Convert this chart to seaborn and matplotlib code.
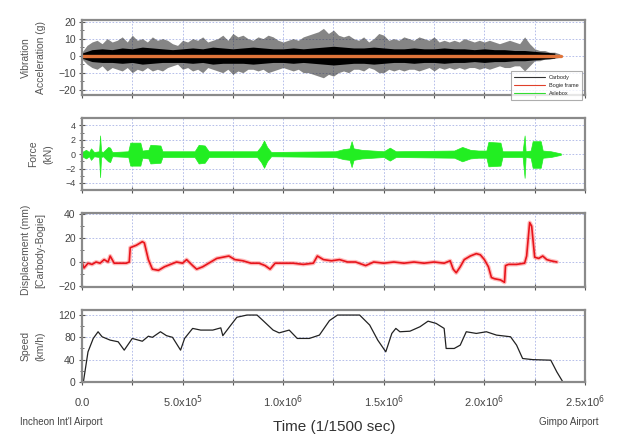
import numpy as np
import pandas as pd
import matplotlib
matplotlib.use("Agg")
import matplotlib.pyplot as plt
from matplotlib.ticker import MultipleLocator, FixedLocator
import seaborn as sns

sns.set_theme(style="white")
plt.rcParams['font.family'] = ['Liberation Sans', 'DejaVu Sans']

# ---------------- data ----------------
# Vibration acceleration (g): sampled peak envelope every 2.5e4 samples
vib_t = np.arange(0, 2.4e6, 2.5e4)
vib_hi = [2, 6, 8, 9, 7, 10, 8, 9, 11, 8,
          12, 9, 10, 8, 11, 9, 10, 9, 7, 6,
          9, 8, 10, 9, 11, 8, 9, 10, 12, 9,
          13, 11, 12, 10, 9, 11, 10, 12, 11, 9,
          8, 9, 10, 9, 11, 12, 13, 14, 16, 13,
          15, 12, 11, 12, 10, 9, 11, 8, 10, 13,
          12, 9, 10, 9, 11, 10, 9, 11, 10, 9,
          11, 8, 9, 8, 9, 8, 10, 9, 8, 9,
          8, 9, 8, 7, 8, 9, 8, 7, 11, 7,
          4, 3, 3, 2, 2, 1]
vib_lo = [-2, -5, -7, -8, -6, -9, -7, -8, -9, -7,
          -10, -8, -9, -7, -9, -8, -9, -7, -6, -5,
          -8, -7, -9, -8, -10, -7, -8, -9, -10, -8,
          -11, -9, -10, -8, -8, -9, -8, -10, -9, -8,
          -7, -8, -9, -8, -10, -10, -11, -12, -13, -11,
          -12, -10, -9, -10, -8, -8, -9, -7, -8, -10,
          -10, -8, -9, -8, -9, -8, -8, -9, -8, -7,
          -9, -7, -8, -7, -8, -7, -8, -7, -7, -8,
          -7, -8, -7, -6, -7, -7, -6, -6, -9, -6,
          -3, -3, -2, -2, -1.5, -1]
# dense core of the carbody signal, every 5e4 samples
core_t = np.arange(0, 2.4e6, 5e4)
core_hi = [1.5, 3.5, 4, 3.5, 4.5, 4, 5, 4.5, 4, 3.5, 4, 4.5,
           4, 5, 4.5, 4, 4.5, 5, 4.5, 4, 4, 4.5, 4, 4.5,
           5, 5.5, 5, 4.5, 4.5, 5, 4.5, 4, 4, 4.5, 4, 4,
           4.5, 4, 4, 3.5, 4, 3.5, 3.5, 3, 3, 2.5, 2, 1.5]
core_lo = [-1.5, -3.5, -4, -4, -4.5, -4, -5, -4.5, -4, -4, -4, -4.5,
           -4, -5, -4.5, -4.5, -4.5, -5, -4.5, -4, -4, -4.5, -4, -4.5,
           -5, -5.5, -5, -4.5, -4.5, -5, -4.5, -4, -4, -4.5, -4, -4,
           -4.5, -4, -4, -3.5, -4, -3.5, -3.5, -3, -3, -2.5, -2, -1.5]
bogie_t = [0, 2.38e6]
bogie_v = [0, 0]

# Force (kN) envelope, time in units of 1e5 samples
force_t = [0, 0.2, 0.35, 0.45, 0.6, 0.85, 0.9, 0.95, 1.05, 1.3, 1.4, 1.5, 1.6,
           2.3, 2.4, 2.9, 3.0, 3.3, 3.4, 3.9, 4.0, 5.6, 5.8, 6.1, 6.3, 8.7, 8.9,
           9.05, 9.2, 9.4, 12.6, 13.0, 13.3, 13.4, 13.5, 13.9, 15.0, 15.3, 15.6,
           18.5, 18.9, 19.3, 19.7, 20.1, 20.2, 20.8, 20.9, 21.9, 22.0, 22.05,
           22.3, 22.4, 22.8, 22.9, 23.3, 23.8]
force_hi = [0.3, 0.6, 0.3, 0.8, 0.3, 0.4, 2.6, 0.4, 0.3, 1.0, 0.9, 0.3, 0.3,
            0.4, 1.6, 1.6, 0.5, 0.6, 1.3, 1.2, 0.4, 0.4, 1.3, 1.2, 0.4, 0.4, 1.1,
            1.9, 1.0, 0.3, 0.4, 0.7, 0.8, 1.8, 0.8, 0.6, 0.4, 0.9, 0.4,
            0.5, 1.0, 0.6, 0.5, 0.5, 1.7, 1.6, 0.4, 0.4, 2.6, 0.4,
            0.5, 1.8, 1.8, 0.5, 0.4, 0.1]
force_lo = [-0.3, -0.6, -0.3, -0.8, -0.3, -0.4, -3.2, -0.4, -0.3, -1.0, -1.1, -0.3, -0.3,
            -0.4, -1.6, -1.6, -0.5, -0.6, -1.3, -1.2, -0.4, -0.4, -1.3, -1.2, -0.4, -0.4, -1.1,
            -1.9, -1.0, -0.3, -0.4, -0.7, -0.8, -1.8, -0.8, -0.6, -0.4, -0.9, -0.4,
            -0.5, -1.0, -0.6, -0.5, -0.5, -1.7, -1.6, -0.4, -0.4, -3.3, -0.4,
            -0.5, -1.9, -1.9, -0.5, -0.4, -0.1]

# Displacement (mm) carbody-bogie, time in units of 1e5 samples
disp_t = [0, 0.1, 0.3, 0.5, 0.7, 0.9, 1.1, 1.3, 1.4, 1.6, 1.9, 2.2, 2.35, 2.4,
          2.7, 3.0, 3.1, 3.3, 3.5, 3.8, 4.1, 4.4, 4.7, 5.0, 5.2, 5.5, 5.7, 6.0,
          6.3, 6.7, 7.0, 7.3, 7.6, 8.0, 8.4, 8.8, 9.1, 9.35, 9.6, 10.0, 10.5,
          11.0, 11.5, 11.7, 12.0, 12.4, 12.8, 13.2, 13.6, 14.1, 14.5, 15.0,
          15.5, 16.0, 16.5, 17.0, 17.5, 18.0, 18.3, 18.45, 18.6, 18.8, 19.0,
          19.3, 19.6, 19.8, 20.0, 20.2, 20.35, 20.5, 20.8, 21.0, 21.05, 21.2,
          21.6, 22.0, 22.1, 22.25, 22.35, 22.5, 22.7, 22.9, 23.1, 23.3, 23.6]
disp_v = [0, -5, -1, -2, 0, -1, 2, 0, 5, -1, -1, -1, 0, 12,
          14, 17, 16, 2, -6, -7, -4, -2, 0, -1, 2, -3, -6, -4,
          -1, 3, 4, 5, 2, 1, -1, -1, -3, -6, -1, -1, -1,
          -2, -1, 5, 2, 1, 2, 0, 0, -3, 0, -1,
          0, -1, 0, -1, 0, -1, 1, -6, -9, -4, 2,
          5, 7, 6, 2, -4, -13, -14, -15, -17, -3, -2,
          -2, -1, 5, 33, 30, 4, 3, 5, 2, 1, 0]

# Speed (km/h), time in units of 1e5 samples
speed_t = [0.07, 0.3, 0.56, 0.8, 1.0, 1.4, 1.8, 2.1, 2.5, 3.0, 3.3, 3.5, 3.9,
           4.2, 4.5, 4.9, 5.1, 5.5, 5.9, 6.5, 6.9, 7.0, 7.4, 7.7, 8.2, 8.7,
           9.0, 9.5, 9.8, 10.3, 10.7, 11.3, 11.8, 12.3, 12.7, 13.8, 14.3, 14.7,
           15.1, 15.4, 15.6, 15.8, 16.3, 16.8, 17.2, 17.6, 18.0, 18.1, 18.5,
           18.8, 19.1, 19.6, 20.1, 20.6, 21.3, 21.6, 21.9, 22.4, 23.3, 23.6, 23.9]
speed_v = [0, 54, 78, 90, 81, 75, 72, 57, 78, 73, 82, 80, 90,
           83, 80, 57, 78, 96, 93, 93, 97, 83, 102, 116, 120, 120,
           110, 93, 88, 93, 78, 78, 84, 110, 120, 120, 102, 75,
           54, 87, 96, 90, 91, 99, 109, 105, 96, 60, 60,
           66, 90, 87, 90, 84, 81, 66, 42, 40, 39, 18, 0]

x_ticks = [0, 5e5, 1e6, 1.5e6, 2e6, 2.5e6]
x_tick_labels = ["0.0", r"5.0x10$^5$", r"1.0x10$^6$", r"1.5x10$^6$",
                 r"2.0x10$^6$", r"2.5x10$^6$"]
legend_labels = ["Carbody", "Bogie frame", "Axlebox"]

# ---------------- figure ----------------
fig = plt.figure(figsize=(6.21, 4.41), dpi=100)
L, W = 0.132, 0.810
axes = [fig.add_axes([L, 0.785, W, 0.170]),
        fig.add_axes([L, 0.569, W, 0.163]),
        fig.add_axes([L, 0.349, W, 0.168]),
        fig.add_axes([L, 0.134, W, 0.163])]

grid_kw = dict(color="#aab4e6", lw=0.6, ls=(0, (2, 2)))
tick_col = "#555555"

def style(ax, ylim, ymaj, ymin, ylabel, lab_fs=7.5):
    ax.set_xlim(0, 2.5e6)
    ax.set_ylim(*ylim)
    ax.xaxis.set_major_locator(MultipleLocator(2.5e5))
    ax.yaxis.set_major_locator(FixedLocator(ymaj))
    ax.yaxis.set_minor_locator(MultipleLocator(ymin))
    ax.grid(True, which="major", **grid_kw)
    ax.set_axisbelow(True)
    for s in ax.spines.values():
        s.set_color("#8a8a8a")
        s.set_linewidth(1.6)
    ax.tick_params(axis="both", which="major", direction="inout", length=5,
                   width=0.8, color=tick_col, labelsize=lab_fs, labelcolor="#444444",
                   left=True, bottom=True, pad=2)
    ax.tick_params(axis="y", which="minor", direction="inout", length=3,
                   width=0.6, color=tick_col, left=True)
    ax.set_xticklabels([])
    ax.set_ylabel(ylabel, fontsize=7.5, color="#555555", labelpad=9, linespacing=1.6)

# Panel 1: vibration
ax = axes[0]
ax.fill_between(vib_t, vib_lo, vib_hi, color="#222222", alpha=0.55, lw=0)
ax.fill_between(core_t, core_lo, core_hi, color="black", lw=0)
sns.lineplot(x=bogie_t, y=bogie_v, ax=ax, color="#e0743a", lw=2.4)
style(ax, (-23, 21), [-20, -10, 0, 10, 20], 5, "Vibration\nAcceleration (g)")
h1, = ax.plot([], [], color="#333333", lw=0.8)
h2, = ax.plot([], [], color="#e0402a", lw=0.8)
h3, = ax.plot([], [], color="#33dd33", lw=0.8)
leg = ax.legend([h1, h2, h3], legend_labels, loc="lower right",
                bbox_to_anchor=(1.0, -0.1), fontsize=4, frameon=True,
                fancybox=False, handlelength=5.5, borderpad=0.6, labelspacing=0.6)
leg.get_frame().set_edgecolor("#999999")
leg.get_frame().set_linewidth(0.8)
leg.set_zorder(5)

# Panel 2: force
ax = axes[1]
ft = np.array(force_t) * 1e5
ax.fill_between(ft, force_lo, force_hi, color="#22ee22", lw=0.5, edgecolor="#22ee22")
style(ax, (-5, 5), [-4, -2, 0, 2, 4], 1, "Force\n(kN)", lab_fs=6.5)

# Panel 3: displacement
ax = axes[2]
df_disp = pd.DataFrame({"t": np.array(disp_t) * 1e5, "d": disp_v})
sns.lineplot(data=df_disp, x="t", y="d", ax=ax, color="#ff5555", lw=3.0, alpha=0.4)
sns.lineplot(data=df_disp, x="t", y="d", ax=ax, color="#e8141b", lw=1.2)
style(ax, (-21, 41), [-20, 0, 20, 40], 10, "Displacement (mm)\n[Carbody-Bogie]")

# Panel 4: speed
ax = axes[3]
df_speed = pd.DataFrame({"t": np.array(speed_t) * 1e5, "v": speed_v})
sns.lineplot(data=df_speed, x="t", y="v", ax=ax, color="#222222", lw=0.9)
style(ax, (0, 129), [0, 40, 80, 120], 20, "Speed\n(km/h)")
ax.set_xticks(x_ticks)
ax.set_xticks([2.5e5 + 5e5 * i for i in range(5)], minor=True)
ax.grid(True, which="minor", axis="x", **grid_kw)
ax.set_xticklabels(x_tick_labels, fontsize=8, color="#444444")
for lab in ax.get_xticklabels():
    lab.set_verticalalignment("baseline")
ax.tick_params(axis="x", which="minor", direction="inout", length=5,
               width=0.8, color=tick_col, bottom=True)
ax.tick_params(axis="x", which="major", pad=15)
for a in axes:
    a.set_xlabel("")

fig.text(0.538, 0.032, "Time (1/1500 sec)", fontsize=11, color="#333333",
         ha="center", va="center")
fig.text(0.032, 0.043, "Incheon Int'l Airport", fontsize=7, color="#444444",
         ha="left", va="center")
fig.text(0.868, 0.043, "Gimpo Airport", fontsize=7, color="#444444",
         ha="left", va="center")

fig.savefig("out.png", dpi=100)
